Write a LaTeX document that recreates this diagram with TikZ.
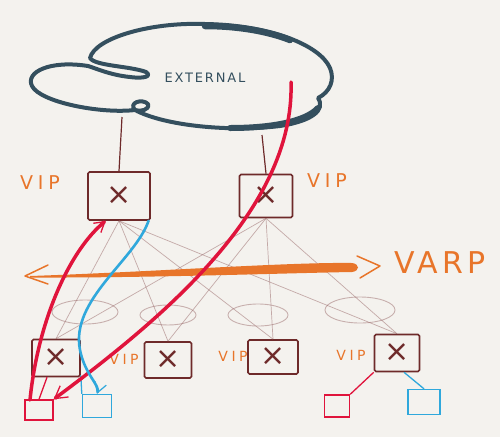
\documentclass[tikz,border=0pt]{standalone}
\usepackage{fontspec}
\setmainfont{DejaVu Sans}
\newfontfamily\handfont[LetterSpace=25]{DejaVu Sans}
\newfontfamily\extfont[LetterSpace=14]{DejaVu Sans}
\newfontfamily\crossfont{DejaVu Sans ExtraLight}
\usetikzlibrary{arrows.meta,calc}
\definecolor{bgc}{HTML}{F4F2EE}
\definecolor{cloudc}{HTML}{344F5E}
\definecolor{boxc}{HTML}{6E2A2A}
\definecolor{meshc}{HTML}{9C6E6E}
\definecolor{varpc}{HTML}{E8752A}
\definecolor{redc}{HTML}{E0143C}
\definecolor{bluec}{HTML}{2FA8DC}
\tikzset{
  swbox/.style={draw=boxc, line width=1.6pt, rounded corners=1.5pt, inner sep=0pt, text=boxc, font=\fontsize{30}{30}\selectfont},
  hostbox/.style={draw, line width=1.4pt, inner sep=0pt},
  mesh/.style={draw=meshc, line width=0.7pt, opacity=0.55},
  loopc/.style={draw=meshc, line width=0.9pt, opacity=0.5},
  viplabel/.style={text=varpc, font=\handfont\fontsize{19}{19}\selectfont, inner sep=0pt},
  uplink/.style={draw=boxc, line width=1.2pt},
  redpath/.style={draw=redc, line width=3.5pt, line cap=round},
  bluepath/.style={draw=bluec, line width=2.6pt, line cap=round},
}
\begin{document}
\begin{tikzpicture}[x=1pt,y=-1pt]
\fill[bgc] (0,0) rectangle (500,437);
\useasboundingbox (0,0) rectangle (500,437);

% cloud
\draw[cloudc, line width=4pt, line cap=round, line join=round]
  (205,24) .. controls (150,22) and (95,38) .. (90,58)
  .. controls (95,66) and (130,66) .. (146,72)
  .. controls (152,76) and (145,79) .. (130,77)
  .. controls (110,75) and (95,68) .. (88,66)
  .. controls (50,60) and (25,72) .. (32,86)
  .. controls (40,102) and (100,114) .. (135,110)
  .. controls (128,103) and (142,98) .. (148,104)
  .. controls (150,110) and (140,112) .. (135,110)
  .. controls (165,126) and (230,132) .. (280,126)
  .. controls (312,121) and (326,110) .. (318,98)
  .. controls (330,92) and (335,80) .. (330,68)
  .. controls (320,45) and (270,25) .. (205,24);
\draw[cloudc, line width=6.5pt, line cap=round]
  (205,26) .. controls (240,26) and (270,32) .. (290,40);
\draw[cloudc, line width=6pt, line cap=round]
  (230,128) .. controls (270,128) and (305,122) .. (318,108);
\node (ext) at (205,78) {\extfont\fontsize{13}{13}\selectfont\color{cloudc}EXTERNAL};

% spine switches
\node[swbox, minimum width=62pt, minimum height=48pt] (s1) at (119,196) {×};
\node[swbox, minimum width=53pt, minimum height=43pt] (s2) at (266,196) {×};
% leaf switches
\node[swbox, minimum width=48pt, minimum height=37pt] (l1) at (56,358) {×};
\node[swbox, minimum width=47pt, minimum height=36pt] (l2) at (168,360) {×};
\node[swbox, minimum width=50pt, minimum height=34pt] (l3) at (273,357) {×};
\node[swbox, minimum width=45pt, minimum height=37pt] (l4) at (397,353) {×};
% hosts
\node[hostbox, draw=redc, minimum width=28pt, minimum height=20pt] (h1r) at (39,410) {};
\node[hostbox, draw=bluec, minimum width=29pt, minimum height=23pt] (h1b) at (97,406) {};
\node[hostbox, draw=redc, minimum width=25pt, minimum height=22pt] (h4r) at (337,406) {};
\node[hostbox, draw=bluec, minimum width=32pt, minimum height=25pt] (h4b) at (424,402) {};

% uplinks to cloud
\coordinate (c1) at (122,117);
\coordinate (c2) at (262,135);
\draw[uplink] (c1) -- (s1.north);
\draw[uplink] (c2) -- (s2.north);

% mesh
\foreach \l in {l1,l2,l3,l4}{
  \draw[mesh] (s1.south) -- (\l.north);
  \draw[mesh] (s2.south) -- (\l.north);
}
% mlag loops
\draw[loopc] (85,312) ellipse [x radius=33, y radius=12];
\draw[loopc] (168,315) ellipse [x radius=28, y radius=10];
\draw[loopc] (258,315) ellipse [x radius=30, y radius=11];
\draw[loopc] (360,310) ellipse [x radius=35, y radius=13];

% host links
\draw[redc, line width=1.3pt] (l1.-115) -- (h1r.north);
\draw[bluec, line width=1.3pt] (l1.-35) -- (h1b.north west);
\draw[redc, line width=1.3pt] (l4.south west) -- (h4r.north east);
\draw[bluec, line width=1.3pt] (l4.-70) -- (h4b.north);

% VARP
\coordinate (va) at (25,276);
\coordinate (vb) at (380,266);
\fill[varpc] (30,276) .. controls (150,272) and (290,262) .. (352,263)
  .. controls (360,264) and (360,271) .. (352,272)
  .. controls (290,273) and (150,278) .. (30,277.5) -- cycle;
\draw[varpc, line width=1.5pt, line cap=round, line join=round] (48,265) -- (va) -- (48,284);
\draw[varpc, line width=1.5pt, line cap=round, line join=round] (357,256) -- (vb) -- (360,278);
\node[text=varpc, font=\extfont\fontsize{30}{30}\selectfont, inner sep=0pt] (varp) at (440,263) {VARP};

% VIP labels
\node[viplabel] (vip1) at (40,183) {VIP};
\node[viplabel] (vip2) at (327,181) {VIP};
\node[viplabel, font=\handfont\fontsize{14}{14}\selectfont] (vip3) at (124,359) {VIP};
\node[viplabel, font=\handfont\fontsize{14}{14}\selectfont] (vip4) at (233,356) {VIP};
\node[viplabel, font=\handfont\fontsize{14}{14}\selectfont] (vip5) at (351,355) {VIP};

% traffic paths
\coordinate (r1s) at (30,400);
\coordinate (r2s) at (291,82);
\draw[redpath, -{Straight Barb[length=10pt,width=12pt,line width=1.3pt]}]
  (r1s) .. controls (38,320) and (70,250) .. (s1.-118);
\draw[redpath, -{Straight Barb[length=12pt,width=14pt,line width=1.3pt]}]
  (r2s) .. controls (295,210) and (160,320) .. (h1r.north east);
\draw[bluepath, -{Straight Barb[length=10pt,width=12pt,line width=1.2pt]}]
  (s1.-40) .. controls (135,260) and (70,300) .. (80,350)
  .. controls (85,375) and (100,385) .. (h1b.north);
\end{tikzpicture}
\end{document}
